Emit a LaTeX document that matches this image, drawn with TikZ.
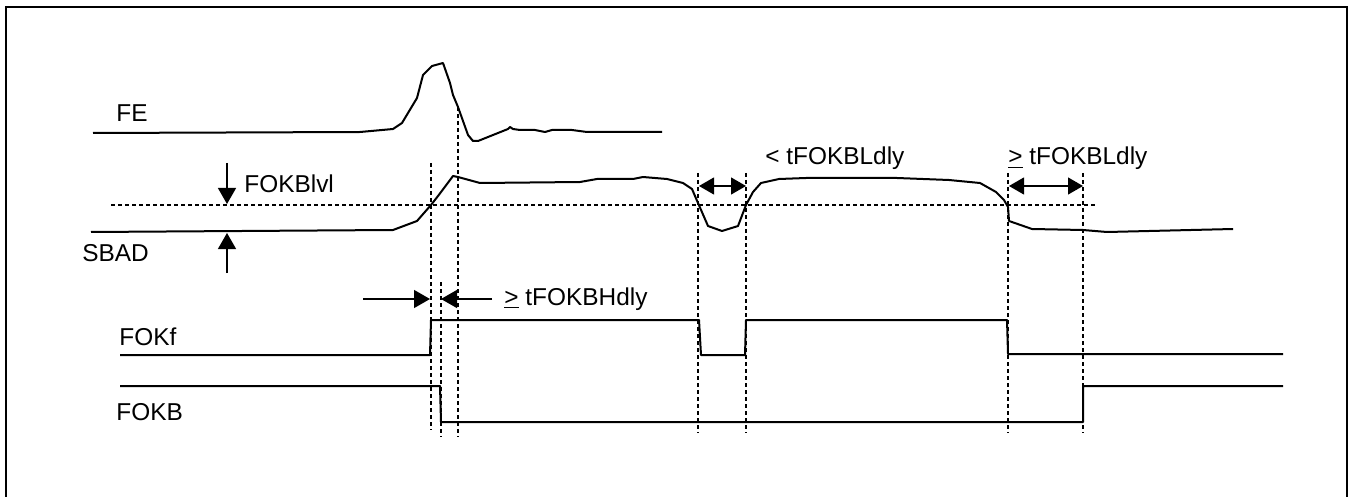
\documentclass[tikz,border=0pt]{standalone}
\usepackage{fontspec}
\setmainfont{Liberation Sans}
\usetikzlibrary{arrows.meta}
\tikzset{
  wave/.style={line width=1pt, line join=round},
  guide/.style={line width=0.55pt, dash pattern=on 2pt off 1.5pt},
  dimarr/.style={line width=0.6pt, -{Triangle[length=8pt,width=9pt]}},
  dimboth/.style={line width=0.6pt, {Triangle[length=7.5pt,width=8.5pt]}-{Triangle[length=7.5pt,width=8.5pt]}},
  lbl/.style={anchor=base west, inner sep=0pt, font=\fontsize{12.2}{14}\selectfont},
}
\begin{document}
\begin{tikzpicture}[x=0.5pt,y=-0.5pt]
	\useasboundingbox (0,0) rectangle (1353,497);
	%frame
	\draw[line width=1.25pt] (6,7) rectangle (1347,503);
	%signal names
	\node[lbl] (fe) at (116,122) {FE};
	\node[lbl] (sbad) at (82,261) {SBAD};
	\node[lbl] (fokf) at (119,345) {FOKf};
	\node[lbl] (fokb) at (116,420) {FOKB};
	%timing labels
	\node[lbl] (lvl) at (244,193) {FOKBlvl};
	\node[lbl] (hdly) at (504,305) {\underline{>} tFOKBHdly};
	\node[lbl] (ldlyshort) at (765,165) {< tFOKBLdly};
	\node[lbl] (ldlylong) at (1008,165) {\underline{>} tFOKBLdly};
	%guide lines
	\foreach \xx/\yt/\yb in {431/163/430, 441/282/437, 458/107/437, 698/173/433, 746/173/433, 1008/173/433, 1083/173/433}
		\draw[guide] (\xx,\yt) -- (\xx,\yb);
	\draw[guide] (111,205) -- (1097,205);
	%FE
	\draw[wave] (93,133) -- (360,132) -- (393,129) -- (402,123) -- (417,98) -- (423,75) -- (432,66) -- (443,63) -- (450,83) -- (453,95) -- (458,107) -- (468,135) -- (473,141) -- (478,141) -- (508,129) -- (510,127) -- (513,129) -- (520,130) -- (535,130) -- (545,132) -- (552,130) -- (572,130) -- (587,132) -- (662,132);
	%SBAD
	\draw[wave] (91,232) -- (393,230) -- (417,221) -- (431,205) -- (438,196) -- (453,176) -- (458,177) -- (480,183) -- (580,182) -- (597,179) -- (633,179) -- (643,177) -- (667,179) -- (683,183) -- (692,189) -- (698,203) -- (708,226) -- (722,231) -- (738,226) -- (746,205) -- (753,192) -- (761,183) -- (779,179) -- (806,178) -- (897,178) -- (949,180) -- (980,183) -- (996,192) -- (1004,200) -- (1008,207) -- (1009,221) -- (1032,229) -- (1083,230) -- (1107,232) -- (1233,229);
	%FOKBlvl arrows
	\coordinate (lvltop) at (227,163);
	\coordinate (lvlhi) at (227,204);
	\coordinate (lvllo) at (227,233);
	\coordinate (lvlbot) at (227,273);
	\draw[dimarr] (lvltop) -- (lvlhi);
	\draw[dimarr] (lvlbot) -- (lvllo);
	%delay arrows
	\draw[dimarr] (363,299) -- (430,299);
	\draw[dimarr] (492,299) -- (441,299);
	\draw[dimboth] (699,186) -- (746,186);
	\draw[dimboth] (1009,186) -- (1083,186);
	%FOKf and FOKB
	\draw[wave] (120,355) -- (430,355) -- (431,320) -- (699,320) -- (701,355) -- (745,355) -- (746,320) -- (1007,320) -- (1008,354) -- (1283,354);
	\draw[wave] (120,386) -- (440,386) -- (441,422) -- (1083,422) -- (1083,386) -- (1283,386);
\end{tikzpicture}
\end{document}
